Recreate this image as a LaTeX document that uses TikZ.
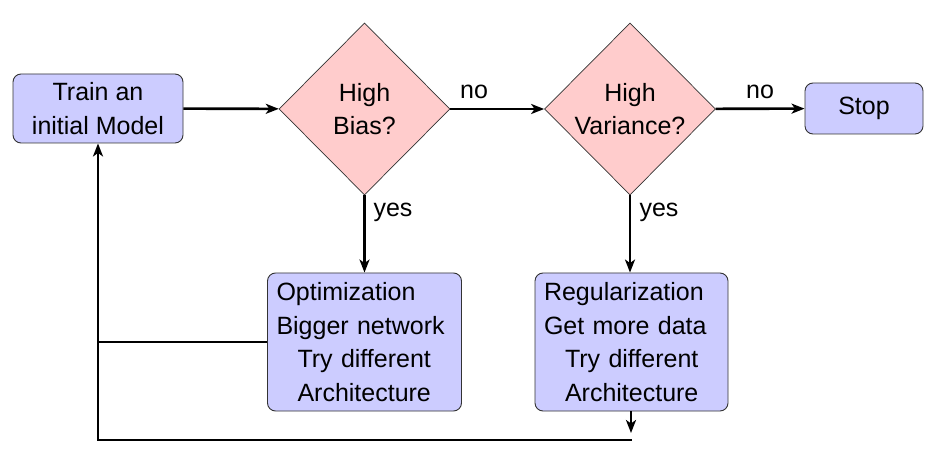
\documentclass[tikz,border=0pt]{standalone}
\usepackage{fontspec}
\setmainfont{Liberation Sans}
\usetikzlibrary{shapes.geometric,arrows.meta}
\definecolor{boxfill}{HTML}{CCCCFF}
\definecolor{diafill}{HTML}{FFCCCC}
\begin{document}
\begin{tikzpicture}[x=1pt,y=-1pt,
  font=\fontsize{25}{33.5}\selectfont,
  box/.style={draw=black!80, fill=boxfill, rounded corners=8pt, line width=0.9pt, align=center, inner sep=0pt},
  tbox/.style={box, align=left, text width=176pt, inner xsep=9pt, inner ysep=0pt},
  dia/.style={draw=black!80, fill=diafill, diamond, inner sep=0pt, line width=0.7pt, align=center},
  conn/.style={line width=2.6pt, -{Stealth[length=13pt,width=10pt,inset=3.5pt]}},
  plainline/.style={line width=2.6pt},
  lbl/.style={inner sep=0pt}]
\useasboundingbox (0,0) rectangle (942,462);
\node[box, minimum width=170pt, minimum height=69pt] (train) at (98,108.5) {Train an\\initial Model};
\node[dia, minimum width=171pt, minimum height=172pt] (bias) at (364.5,109) {High\\Bias?};
\node[dia, minimum width=171pt, minimum height=172pt] (var) at (630,109) {High\\Variance?};
\node[box, minimum width=118pt, minimum height=51pt] (stop) at (864,108.5) {Stop};
\node[tbox, minimum height=138pt] (opt) at (364.5,342) {Optimization\\Bigger network\\\hspace*{21pt}Try different\\\hspace*{21pt}Architecture};
\node[tbox, minimum height=138pt, text width=175pt] (reg) at (631.5,342) {Regularization\\Get more data\\\hspace*{21pt}Try different\\\hspace*{21pt}Architecture};
\coordinate (c1) at (631,440);
\coordinate (c2) at (98,440);
\coordinate (c3) at (98,342);
\draw[conn] (train) -- (bias);
\draw[conn] (bias) -- (var);
\draw[conn] (var) -- (stop);
\draw[conn] (bias) -- (opt);
\draw[conn] (var.south) -- (var.south |- reg.north);
\draw[plainline] (opt.west) -- (c3);
\draw[conn, shorten >=7pt] (reg.south -| c1) -- (c1);
\draw[plainline, line cap=rect] (c1) -- (c2);
\draw[conn] (c2) -- (train.south);
\node[lbl] (no1) at (474,92) {no};
\node[lbl] (no2) at (760,92) {no};
\node[lbl] (yes1) at (393,212) {yes};
\node[lbl] (yes2) at (659,212) {yes};
\end{tikzpicture}
\end{document}
